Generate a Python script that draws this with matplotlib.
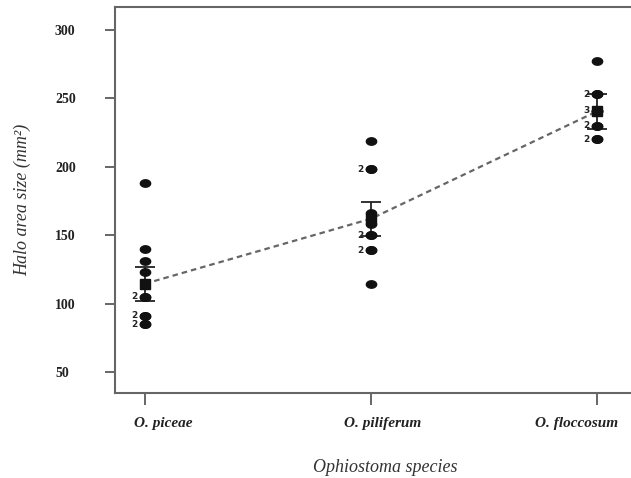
import matplotlib.pyplot as plt
import matplotlib.transforms as mtransforms
from matplotlib.path import Path
import numpy as np

# categories and raw halo sizes
species = ['O. piceae', 'O. piliferum', 'O. floccosum']
piceae = [188, 140, 131, 123, 105, 105, 91, 91, 85, 85]
piliferum = [219, 198, 198, 166, 158, 150, 150, 139, 139, 114]
floccosum = [277, 253, 253, 241, 241, 241, 230, 230, 220, 220]

# group means and standard errors as drawn
means = [114.5, 162, 240.5]
errors = [12.5, 12.5, 13]

# "n" labels beside overlapping points: (group index, value, text)
count_pos = [0, 0, 0, 1, 1, 1, 2, 2, 2, 2]
count_val = [105, 91, 85, 198, 150, 139, 253, 241, 230, 220]
count_txt = ['2', '2', '2', '2', '2', '2', '2', '3', '2', '2']

yticks = [50, 100, 150, 200, 250, 300]

plt.rcParams['font.family'] = ['Liberation Serif', 'DejaVu Serif']

fig = plt.figure(figsize=(6.31, 4.78), dpi=100)
ax = fig.add_axes([115 / 631, 85 / 478, 530 / 631, 386 / 478])

# flattened ellipse marker
t = np.linspace(0, 2 * np.pi, 40)
ellipse = Path(np.column_stack([np.cos(t), 0.72 * np.sin(t)]), closed=True)

xs = np.arange(1, 4)
groups = [piceae, piliferum, floccosum]
for x, vals in zip(xs, groups):
    ax.plot([x] * len(vals), vals, linestyle='none', marker=ellipse,
            markersize=7.4, color='#111111', zorder=3)

ax.errorbar(xs, means, yerr=errors, fmt='none', ecolor='#222222',
            elinewidth=1.3, capsize=7.2, capthick=1.3, zorder=2)
ax.plot(xs, means, linestyle=(0, (2.5, 1.8)), color='#666666', linewidth=1.6, zorder=2)
ax.plot(xs, means, linestyle='none', marker='s', markersize=6.8,
        color='#111111', zorder=4)

for p, v, s in zip(count_pos, count_val, count_txt):
    ax.annotate(s, (xs[p], v), xytext=(-11, 0), textcoords='offset pixels',
                ha='center', va='center', fontsize=6.5, fontweight='bold',
                family=['DejaVu Sans'], color='#222222')

ax.set_xlim(1 - 30 / 226, 3 + 48 / 226)
ax.set_ylim(34.6, 316.8)

ax.set_yticks(yticks)
ax.set_yticklabels([str(v) for v in yticks], fontsize=10, fontweight='bold',
                   ha='left', color='#222222')
ax.tick_params(axis='y', direction='out', length=7.2, width=1.4,
               color='#666666', pad=36)

ax.set_xticks(xs)
ax.set_xticklabels(species, fontsize=11, fontweight='bold', style='italic',
                   color='#222222')
ax.tick_params(axis='x', direction='out', length=8.6, width=1.4,
               color='#666666', pad=9)
shifts = [18, 12, -20]
for lab, dx in zip(ax.get_xticklabels(), shifts):
    lab.set_transform(lab.get_transform() +
                      mtransforms.ScaledTranslation(dx / 100, 0, fig.dpi_scale_trans))

for side in ['left', 'bottom', 'top']:
    ax.spines[side].set_color('#666666')
    ax.spines[side].set_linewidth(1.5)
ax.spines['right'].set_visible(False)

fig.text(23 / 631, 278 / 478, 'Halo area size (mm²)', rotation=90,
         ha='center', va='center', fontsize=13, style='italic', color='#333333')
fig.text(385 / 631, 11 / 478, 'Ophiostoma species', ha='center', va='center',
         fontsize=13, style='italic', color='#333333')

fig.savefig('out.png', dpi=100)
